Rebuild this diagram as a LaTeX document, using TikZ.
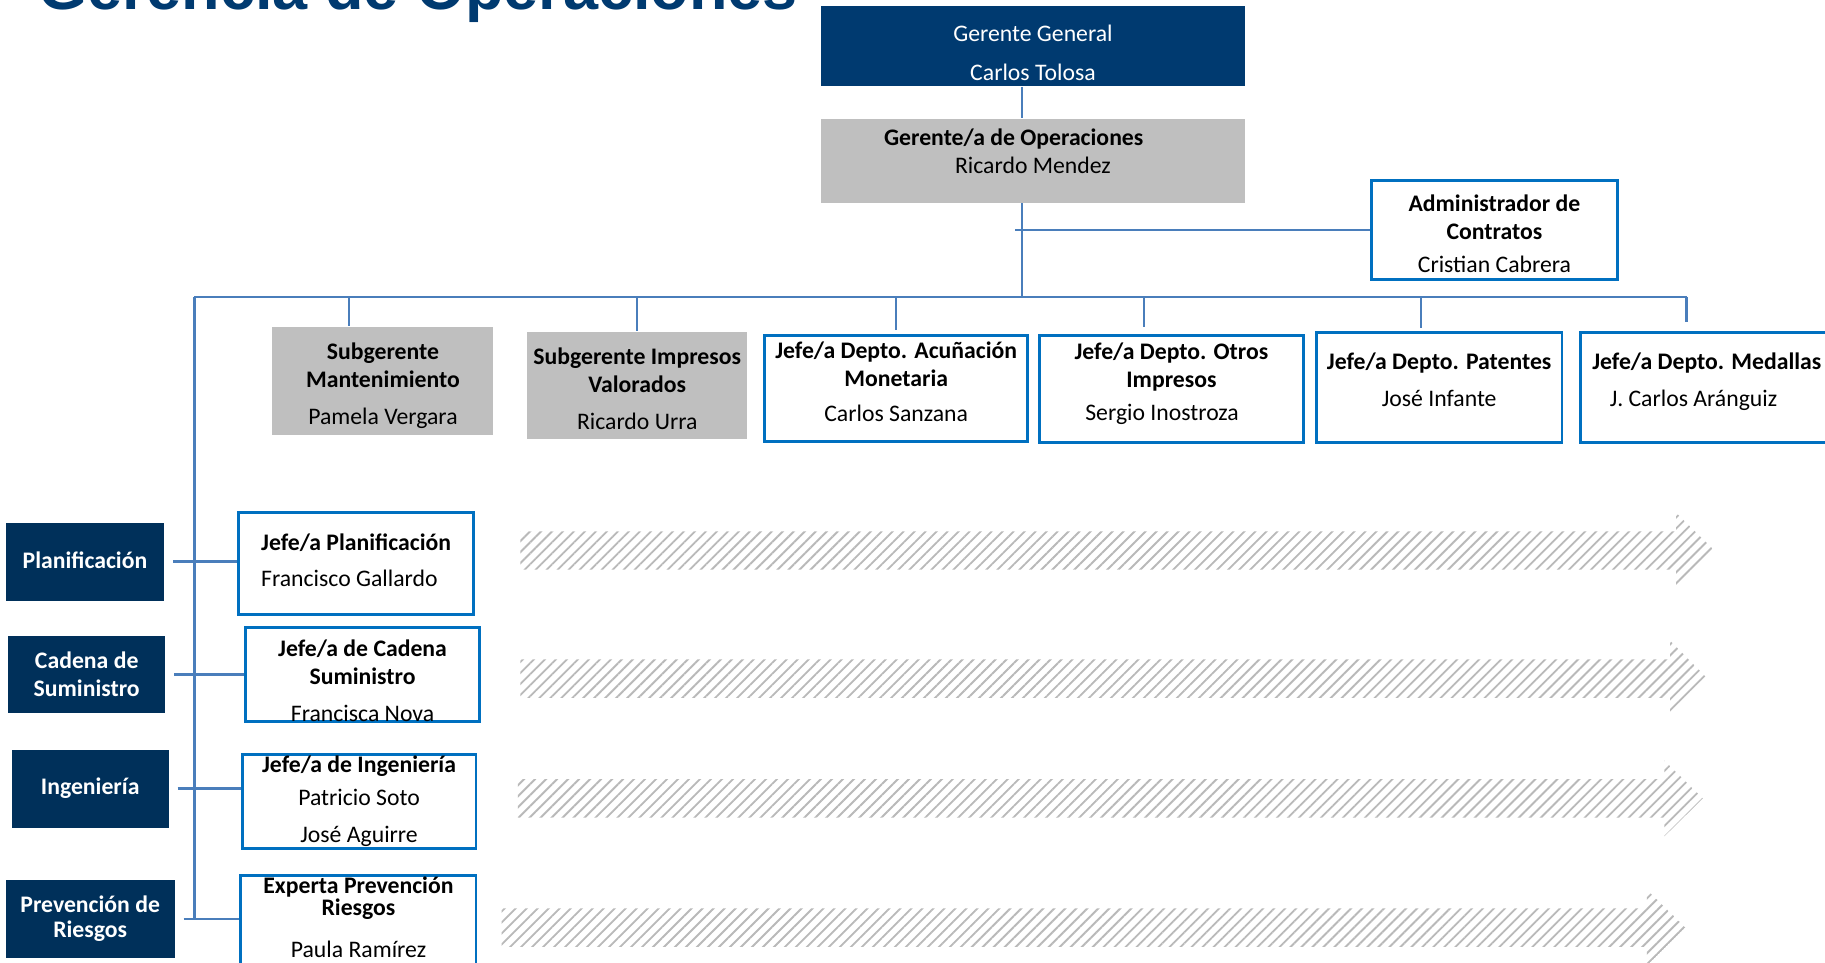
\documentclass[tikz,border=0pt]{standalone}
\usepackage{fontspec}
\setmainfont{Carlito}
\newfontfamily\titlefont{Liberation Sans}
\usetikzlibrary{positioning}
\usetikzlibrary{calc}
\usetikzlibrary{patterns.meta}

\definecolor{gernavy}{RGB}{0,58,112}
\definecolor{areanavy}{RGB}{0,48,90}
\definecolor{boxgray}{RGB}{191,191,191}
\definecolor{boxblue}{RGB}{0,112,192}
\definecolor{linkblue}{RGB}{74,126,187}

\newcommand{\padbot}[1]{\rule[-#1]{0pt}{#1}}
\newcommand{\padtop}[1]{\rule{0pt}{#1}}

\begin{document}
\begin{tikzpicture}[x=0.1mm, y=-0.1mm,
    every node/.style={font=\fontsize{5.8}{6.8}\selectfont, inner sep=0pt},
    gerbox/.style={fill=gernavy, text=white, align=center},
    graybox/.style={fill=boxgray, align=center},
    jefebox/.style={draw=boxblue, line width=0.7pt, fill=white, align=center},
    areabox/.style={fill=areanavy, text=white, align=center, font=\fontsize{5.8}{6.8}\selectfont\bfseries},
    conn/.style={linkblue, line width=0.6pt},
    hatcharrow/.style={pattern={Lines[angle=45, distance=1.9pt, line width=0.45pt]}, pattern color=gray!55}]

            % Page
            \useasboundingbox (0,0) rectangle (1568,827);
            \clip (0,0) rectangle (1568,827);
            \fill[white] (0,0) rectangle (1568,827);

            % Title (cut by the top edge)
            \node[anchor=base west, text=gernavy, font=\titlefont\bfseries\fontsize{15.4}{18}\selectfont] (title) at (32,8) {Gerencia de Operaciones};

            % Top of the chart
            \node[gerbox, minimum width=36.5mm, minimum height=6.9mm] (gg) at (887.5,39.5) {\padtop{7.4pt}Gerente General\\[2.8pt]Carlos Tolosa};
            \node[graybox, minimum width=36.5mm, minimum height=7.2mm] (go) at (887.5,138) {\textbf{Gerente/a de Operaciones}\hspace*{9.4pt}\\Ricardo Mendez\padbot{4.6pt}};
            \node[jefebox, minimum width=21.2mm, minimum height=8.5mm] (adm) at (1284,197.5) {\padtop{6pt}\textbf{Administrador de}\\\textbf{Contratos}\\[1.4pt]Cristian Cabrera};

            % Second level
            \node[graybox, minimum width=19mm, minimum height=9.3mm] (sm) at (329,327.5) {\padtop{6.5pt}\textbf{Subgerente}\\\textbf{Mantenimiento}\\[2.3pt]Pamela Vergara};
            \node[graybox, minimum width=18.9mm, minimum height=9.2mm] (siv) at (547.5,331) {\padtop{6pt}\textbf{Subgerente Impresos}\\\textbf{Valorados}\\[2.3pt]Ricardo Urra};
            \node[jefebox, minimum width=22.6mm, minimum height=9.1mm] (acu) at (770,333.5) {\textbf{Jefe/a Depto. Acuñación}\\\textbf{Monetaria}\\[1.7pt]Carlos Sanzana\padbot{3.2pt}};
            \node[jefebox, minimum width=22.7mm, minimum height=9.2mm] (otr) at (1006.5,334) {\textbf{Jefe/a Depto. Otros}\\\textbf{Impresos}\\[1.4pt]Sergio Inostroza\padbot{3.4pt}\hspace*{4.6pt}};
            \node[jefebox, minimum width=21.1mm, minimum height=9.4mm] (pat) at (1236.5,333) {\textbf{Jefe/a Depto. Patentes}\\[2.3pt]José Infante\padbot{3.7pt}};
            \node[jefebox, minimum width=21.7mm, minimum height=9.4mm] (med) at (1466.5,333) {\textbf{Jefe/a Depto. Medallas}\\[2.3pt]J. Carlos Aránguiz\padbot{3.7pt}\hspace*{6.5pt}};

            % Areas on the left
            \node[areabox, minimum width=13.6mm, minimum height=6.7mm] (pla) at (73,482.5) {Planificación\padbot{0.9pt}};
            \node[areabox, minimum width=13.5mm, minimum height=6.7mm] (cad) at (74.5,579.5) {Cadena de\\Suministro};
            \node[areabox, minimum width=13.5mm, minimum height=6.7mm] (ing) at (77.5,677.5) {Ingeniería};
            \node[areabox, minimum width=14.5mm, minimum height=6.7mm] (pre) at (77.5,789.5) {Prevención de\\[-0.6pt]Riesgos};

            % Heads of area
            \node[jefebox, align=left, minimum width=20.2mm, minimum height=8.8mm] (jpla) at (306,484) {\textbf{Jefe/a Planificación}\\[2pt]Francisco Gallardo\padbot{1.7pt}};
            \node[jefebox, minimum width=20.1mm, minimum height=7.9mm] (jcad) at (311.5,579.5) {\padtop{7.1pt}\textbf{Jefe/a de Cadena}\\\textbf{Suministro}\\[2.3pt]Francisca Nova};
            \node[jefebox, minimum width=20.1mm, minimum height=8.1mm] (jing) at (308.5,688.5) {\textbf{Jefe/a de Ingeniería}\\[1.1pt]Patricio Soto\\[2.3pt]José Aguirre};
            \node[jefebox, minimum width=20.2mm, minimum height=8mm] (jpre) at (308,792) {\textbf{Experta Prevención}\\[-1.4pt]\textbf{Riesgos}\\[3.4pt]Paula Ramírez\padbot{2.3pt}};

            % Lines
            \coordinate (trunk) at (878,255);
            \coordinate (busL) at (167,255);
            \coordinate (busR) at (1449,255);
            \draw[conn] (gg.south -| trunk) -- (go.north -| trunk);
            \draw[conn] (go.south -| trunk) -- (trunk);
            \draw[conn] (adm.west) -- ([xshift=-0.6mm]adm.west -| trunk);
            \draw[conn] (busL) -- (busR);
            \foreach \n/\dx/\gap in {sm/-2.9/0, siv/0/0, acu/0/0.3, otr/-2.35/0.6, pat/-1.55/0.3, med/-1.75/0.8}
                \draw[conn, shorten >=\gap mm] ([xshift=\dx mm]\n.north |- busL) -- ([xshift=\dx mm]\n.north);
            \draw[conn] (busL) -- (busL |- pre.east);
            \foreach \a/\b in {pla/jpla, cad/jcad, ing/jing, pre/jpre}
                \draw[conn, shorten <=0.7mm] (\a.east) -- (\a.east -| \b.west);

            % Hatched arrows
            \foreach \xa/\xb/\xc/\yc in {447/1440/1473/473, 447/1435/1467/583, 445/1430/1463/686, 431/1415/1448/797}
                \path[hatcharrow] (\xa,\yc-16.5) -- (\xb,\yc-16.5) -- (\xb,\yc-32.5) -- (\xc,\yc) -- (\xb,\yc+32.5) -- (\xb,\yc+16.5) -- (\xa,\yc+16.5) -- cycle;

\end{tikzpicture}
\end{document}
